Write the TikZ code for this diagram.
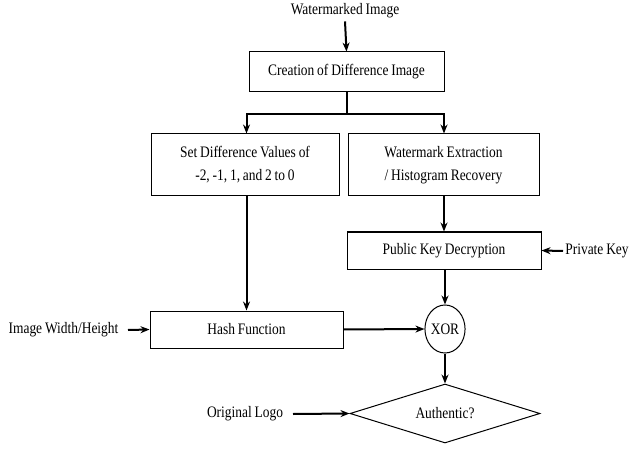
\documentclass[tikz,border=0pt]{standalone}
\usepackage{fontspec}
\setmainfont[FakeStretch=0.84,WordSpace=0.84]{Liberation Serif}
\usetikzlibrary{arrows.meta,shapes.geometric}
\begin{document}
\frenchspacing
\begin{tikzpicture}[x=1pt,y=-1pt,
  every node/.style={font=\fontsize{16}{19}\selectfont, inner sep=0pt},
  box/.style={draw, line width=1pt, minimum width=#1, align=center},
  arr/.style={line width=2pt, -{Stealth[length=9pt,width=7pt]}},
  ln/.style={line width=2pt}]
\useasboundingbox (0,0) rectangle (629,449);
\node (wm) at (345,11) {Watermarked Image};
\node[box=195pt, minimum height=40pt] (cr) at (346.5,72) {Creation of Difference Image};
\node[box=188pt, minimum height=62pt] (sd) at (245,165) {Set Difference Values of\\[4pt]-2, -1, 1, and 2 to 0};
\node[box=191pt, minimum height=62pt] (we) at (443.5,165) {Watermark Extraction\\[4pt]/ Histogram Recovery};
\node[box=194pt, minimum height=37pt] (pk) at (444,250.5) {Public Key Decryption};
\node (prk) at (597,251) {Private Key};
\node[box=193pt, minimum height=37pt] (hf) at (246.5,329.5) {Hash Function};
\node (iwh) at (63.5,330) {Image Width/Height};
\node[draw, ellipse, line width=1pt, minimum width=40pt, minimum height=48pt] (xor) at (445,329) {XOR};
\node[draw, diamond, line width=1pt, minimum width=190pt, minimum height=59pt, aspect=3.2] (au) at (445,413.5) {Authentic?};
\node (ol) at (245,414) {Original Logo};
\coordinate (split) at (346.5,114);
\coordinate (prkend) at (563,251);
\coordinate (iwhend) at (128,330);
\coordinate (olend) at (293,414);
\draw[arr] (wm.south) ++(0,3) -- (cr.north);
\draw[ln] (cr.south) -- (split);
\draw[arr] (split) -| (sd.north -| hf.north);
\draw[arr] (split) -| (we.north -| pk.north);
\draw[arr] (we.south -| pk.north) -- (pk.north);
\draw[arr] (sd.south -| hf.north) -- (hf.north);
\draw[arr] (prkend) -- (pk.east);
\draw[arr] (iwhend) -- (hf.west);
\draw[arr] (hf.east) -- (xor.west);
\draw[arr] (pk.south -| xor.north) -- (xor.north);
\draw[arr] (xor.south) -- (au.north);
\draw[arr] (olend) -- (au.west);
\end{tikzpicture}
\end{document}
